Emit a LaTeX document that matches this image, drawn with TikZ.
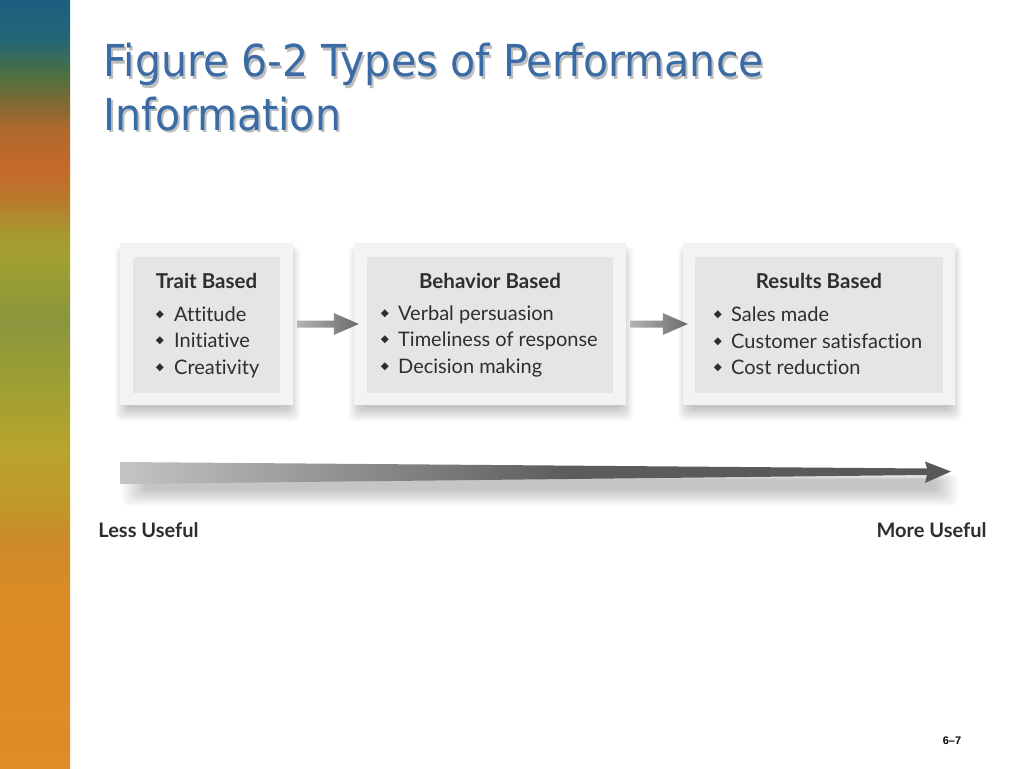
\documentclass[tikz,border=0pt]{standalone}
\usepackage{fontspec}
\setmainfont{Lato}[Ligatures=NoCommon]
\newfontfamily\titlefont{DejaVu Sans}
\newfontfamily\symfont{DejaVu Sans}
\newfontfamily\numfont{Liberation Sans}
\usetikzlibrary{calc}

\definecolor{s01}{HTML}{1C5F80}
\definecolor{s02}{HTML}{236676}
\definecolor{s03}{HTML}{4D7040}
\definecolor{s04}{HTML}{7A6A35}
\definecolor{s05}{HTML}{B0682C}
\definecolor{s06}{HTML}{C46A2A}
\definecolor{s07}{HTML}{B87A2C}
\definecolor{s08}{HTML}{A89A30}
\definecolor{s09}{HTML}{A0A030}
\definecolor{s10}{HTML}{8A963C}
\definecolor{s11}{HTML}{A0A032}
\definecolor{s12}{HTML}{B8A42C}
\definecolor{s13}{HTML}{C09A28}
\definecolor{s14}{HTML}{CC8A2A}
\definecolor{s15}{HTML}{DC8C24}
\definecolor{s16}{HTML}{E08A28}
\definecolor{titleblue}{HTML}{3A6BA5}
\definecolor{titleshadow}{HTML}{BEBEBE}
\definecolor{frame}{HTML}{F3F3F3}
\definecolor{panel}{HTML}{E5E5E7}
\definecolor{ink}{HTML}{2E2E2E}
\definecolor{a1}{HTML}{C4C4C4}
\definecolor{a2}{HTML}{5C5C5C}
\definecolor{a3}{HTML}{585858}
\definecolor{c1}{HTML}{B4B4B4}
\definecolor{c2}{HTML}{6A6A6A}

\pgfdeclareverticalshading{stripshade}{100bp}{%
color(0bp)=(s16); color(25bp)=(s16); color(35.94bp)=(s15); color(39.84bp)=(s14);
color(42.45bp)=(s13); color(45.70bp)=(s12); color(49.61bp)=(s11); color(54.17bp)=(s10);
color(58.07bp)=(s09); color(59.70bp)=(s08); color(61.98bp)=(s07); color(63.93bp)=(s06);
color(66.54bp)=(s05); color(68.49bp)=(s04); color(70.12bp)=(s03); color(72.40bp)=(s02);
color(75bp)=(s01); color(100bp)=(s01)}
\pgfdeclarehorizontalshading{bigarrowshade}{100bp}{%
color(0bp)=(a1); color(25bp)=(a1); color(52bp)=(a2); color(75bp)=(a3); color(100bp)=(a3)}

\tikzset{
  titletext/.style={anchor=base west, inner sep=0pt, font=\titlefont\fontsize{44}{44}\selectfont},
  outerbox/.style={draw=none, fill=frame, inner sep=0pt},
  innerbox/.style={draw=none, fill=panel, inner sep=0pt},
  headtext/.style={anchor=base, inner sep=0pt, text=ink, font=\bfseries\fontsize{20.5}{20.5}\selectfont},
  itemtext/.style={anchor=base west, inner sep=0pt, text=ink, font=\fontsize{20}{20}\selectfont},
  bullet/.style={inner sep=0pt, text=ink, font=\symfont\fontsize{10.5}{10.5}\selectfont},
  scaletext/.style={inner sep=0pt, anchor=base, text=ink, font=\bfseries\fontsize{20}{20}\selectfont},
  connector/.style={left color=c1, right color=c2, draw=none},
  softshadow/.style={fill=black, opacity=0.024, draw=none, rounded corners=6pt}
}

\begin{document}
\begin{tikzpicture}[x=1pt,y=-1pt]
\useasboundingbox (0,0) rectangle (1024,768);
\fill[white] (0,0) rectangle (1024,768);
\shade[shading=stripshade] (0,0) rectangle (70,768);

% title
\node[titletext, text=titleshadow] (t1s) at (105,79) {\scalebox{0.934}[1]{Figure 6-2 Types of Performance}};
\node[titletext, text=titleshadow] (t2s) at (105,132) {\scalebox{0.934}[1]{Information}};
\node[titletext, text=titleblue] (t1) at (103,77) {\scalebox{0.934}[1]{Figure 6-2 Types of Performance}};
\node[titletext, text=titleblue] (t2) at (103,130) {\scalebox{0.934}[1]{Information}};

% box shadows
\foreach \xl/\xr in {120/293, 354/626, 683/955} {
  \foreach \i in {0,...,9} {
    \fill[softshadow] (\xl-5+\i*1.3,246+\i*0.8) rectangle (\xr+7-\i*1.3,421-\i*1.5);
  }
}

% boxes
\node[outerbox, minimum width=173pt, minimum height=162pt] (b1) at (206.5,324) {};
\node[outerbox, minimum width=272pt, minimum height=162pt] (b2) at (490,324) {};
\node[outerbox, minimum width=272pt, minimum height=162pt] (b3) at (819,324) {};
\node[innerbox, minimum width=147pt, minimum height=136pt] (p1) at (206.5,325) {};
\node[innerbox, minimum width=246pt, minimum height=136pt] (p2) at (490,325) {};
\node[innerbox, minimum width=248pt, minimum height=136pt] (p3) at (819,325) {};

% box 1
\node[headtext] (h1) at (206.5,288) {Trait Based};
\node[bullet] (d1a) at (160,315) {◆};
\node[bullet] (d1b) at (160,341) {◆};
\node[bullet] (d1c) at (160,368) {◆};
\node[itemtext] (i1a) at (174,321) {Attitude};
\node[itemtext] (i1b) at (174,347) {Initiative};
\node[itemtext] (i1c) at (174,374) {Creativity};

% box 2
\node[headtext] (h2) at (490,288) {Behavior Based};
\node[bullet] (d2a) at (385,314) {◆};
\node[bullet] (d2b) at (385,340) {◆};
\node[bullet] (d2c) at (385,367) {◆};
\node[itemtext] (i2a) at (398,320) {Verbal persuasion};
\node[itemtext] (i2b) at (398,346) {Timeliness of response};
\node[itemtext] (i2c) at (398,373) {Decision making};

% box 3
\node[headtext] (h3) at (819,288) {Results Based};
\node[bullet] (d3a) at (718,315) {◆};
\node[bullet] (d3b) at (718,342) {◆};
\node[bullet] (d3c) at (718,368) {◆};
\node[itemtext] (i3a) at (731,321) {Sales made};
\node[itemtext] (i3b) at (731,348) {Customer satisfaction};
\node[itemtext] (i3c) at (731,374) {Cost reduction};

% connectors
\shade[connector] ($(b1.east)+(4,-3.5)$) -- ($(b2.west)+(-20,-3.5)$) -- ($(b2.west)+(-20,-11)$)
  -- ($(b2.west)+(5,0)$) -- ($(b2.west)+(-20,11)$) -- ($(b2.west)+(-20,3.5)$)
  -- ($(b1.east)+(4,3.5)$) -- cycle;
\shade[connector] ($(b2.east)+(4,-3.5)$) -- ($(b3.west)+(-20,-3.5)$) -- ($(b3.west)+(-20,-11)$)
  -- ($(b3.west)+(5,0)$) -- ($(b3.west)+(-20,11)$) -- ($(b3.west)+(-20,3.5)$)
  -- ($(b2.east)+(4,3.5)$) -- cycle;

% scale arrow shadow (soft band)
\foreach \i in {0,...,9} {
  \fill[softshadow] (122+\i*2.5,474+\i*0.6) rectangle (958-\i*2.5,506-\i*1.8);
}
% scale arrow
\coordinate (sa) at (120,473);
\coordinate (se) at (951,471.5);
\shade[shading=bigarrowshade]
  ($(sa)+(0,-11)$) -- ($(se)+(-24,-3)$) -- ($(se)+(-26,-10)$) -- (se)
  -- ($(se)+(-26,11.5)$) -- ($(se)+(-24,3.5)$) -- ($(sa)+(0,11)$) -- cycle;

\node[scaletext] (lu) at (148.5,537) {Less Useful};
\node[scaletext] (mu) at (931.5,537) {More Useful};

\node[inner sep=0pt, font=\numfont\bfseries\fontsize{11}{11}\selectfont] (pg) at (952,741) {6–7};
\end{tikzpicture}
\end{document}
